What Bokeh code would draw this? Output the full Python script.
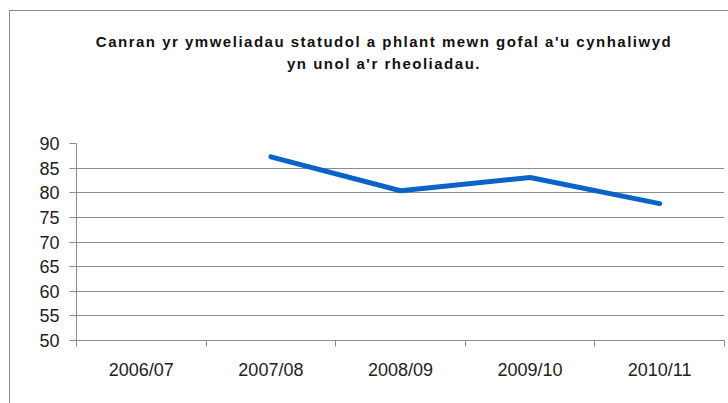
from bokeh.plotting import figure
from bokeh.models import Range1d, FixedTicker, ColumnDataSource, Div
from bokeh.layouts import column
from bokeh.embed import file_html
from bokeh.resources import INLINE

categories = ["2006/07", "2007/08", "2008/09", "2009/10", "2010/11"]
values = [float("nan"), 87.3, 80.4, 83.1, 77.8]
y_ticks = [50, 55, 60, 65, 70, 75, 80, 85, 90]
title_lines = ["Canran yr ymweliadau statudol a phlant mewn gofal a'u cynhaliwyd",
               "yn unol a'r rheoliadau."]

centers = [i + 0.5 for i in range(len(categories))]
bounds = list(range(len(categories) + 1))
src = ColumnDataSource(dict(x=centers, y=values))

grey = "#8c8c8c"

title_html = (
    '<div style="position:absolute; left:24px; width:700px; top:20px; text-align:center; '
    'font-family:\'Liberation Sans\'; font-weight:bold; font-size:15px; line-height:22px; '
    'letter-spacing:1.5px; color:#111111;">'
    + "<br>".join(title_lines) + "</div>"
)
div = Div(text=title_html, width=718, height=110, margin=0,
          styles={"position": "relative"})

p = figure(width=718, height=282, output_backend="svg", toolbar_location=None,
           x_range=Range1d(0, len(categories)), y_range=Range1d(min(y_ticks), max(y_ticks)),
           min_border_left=66, min_border_right=4, min_border_top=22, min_border_bottom=63,
           margin=0)
p.outline_line_color = None

p.line("x", "y", source=src, line_color="#0A64C8", line_width=5, line_cap="round")

# x axis
xa = p.xaxis[0]
xa.ticker = FixedTicker(ticks=centers, minor_ticks=bounds)
xa.major_label_overrides = {c: lab for c, lab in zip(centers, categories)}
xa.major_tick_out = 0
xa.major_tick_in = 0
xa.minor_tick_out = 6
xa.minor_tick_in = 0
xa.minor_tick_line_color = grey
xa.axis_line_color = grey
xa.major_label_standoff = 13
xa.major_label_text_font = "Liberation Sans"
xa.major_label_text_font_size = "18px"
xa.major_label_text_color = "#222222"

# y axis
ya = p.yaxis[0]
ya.ticker = FixedTicker(ticks=y_ticks)
ya.major_tick_out = 7
ya.major_tick_in = 0
ya.minor_tick_line_color = None
ya.axis_line_color = grey
ya.major_tick_line_color = grey
ya.major_label_standoff = 10
ya.major_label_text_font = "Liberation Sans"
ya.major_label_text_font_size = "18px"
ya.major_label_text_color = "#222222"

p.xgrid.grid_line_color = None
p.ygrid.ticker = FixedTicker(ticks=y_ticks)
p.ygrid.grid_line_color = grey
p.ygrid.grid_line_width = 1

layout = column(div, p, spacing=0,
                styles={"margin-left": "9px", "margin-top": "10px",
                        "border-left": "1px solid " + grey, "border-top": "1px solid " + grey})

open("out.html", "w").write(file_html(layout, INLINE))
